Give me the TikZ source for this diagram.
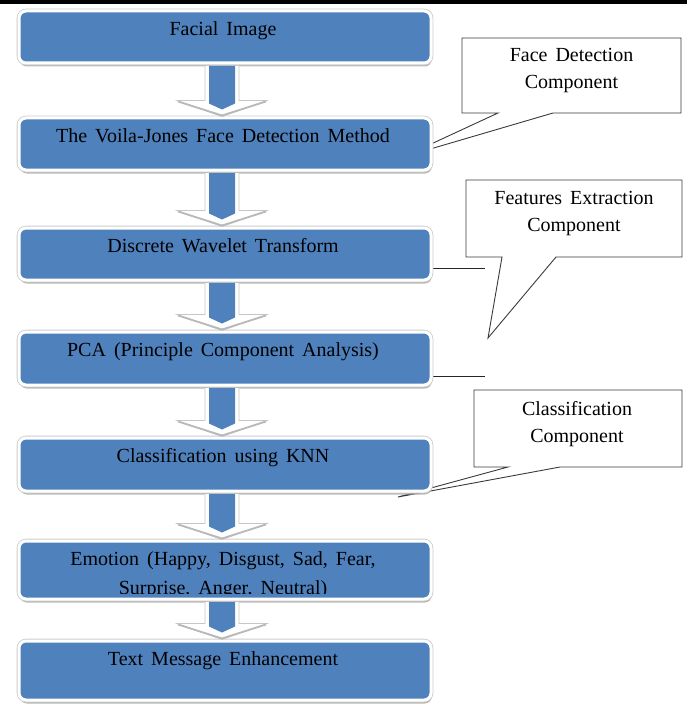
\documentclass[tikz,border=0pt]{standalone}
\usepackage{fontspec}
\setmainfont{Liberation Serif}
\newfontfamily\tnr[WordSpace=1.6]{Liberation Serif}
\usetikzlibrary{shadows,backgrounds,calc}
\definecolor{boxblue}{HTML}{4F81BD}
\definecolor{callline}{HTML}{3A3A3A}
\newcommand\flowarrow[2]{%
  \filldraw[fill=white, draw=gray!45, line width=0.8pt]
    let \p1=(#1.south), \p2=(#2.north) in
    (205pt,\y1-1.5pt) -- (205pt,\y2+16pt) -- (177pt,\y2+16pt) -- (222pt,\y2) -- (267pt,\y2+16pt) -- (239pt,\y2+16pt) -- (239pt,\y1-1.5pt);
  \draw[gray!55, line width=1.8pt, line join=round]
    let \p2=(#2.north) in
    (178pt,\y2+15pt) -- (222pt,\y2+1pt) -- (266pt,\y2+15pt);
  \fill[boxblue]
    let \p1=(#1.south), \p2=(#2.north) in
    (209pt,\y1-1.5pt) -- (209pt,\y2+13pt) -- (222pt,\y2+7pt) -- (235pt,\y2+13pt) -- (235pt,\y1-1.5pt) -- cycle;
}
\begin{document}
\begin{tikzpicture}[x=1pt,y=-1pt,
  box/.style={draw=white, line width=3pt, fill=boxblue, rounded corners=7pt,
    minimum width=412pt, inner sep=0pt,
    drop shadow={shadow xshift=0.8pt, shadow yshift=-3.5pt, fill=gray!70, opacity=0.8},
    preaction={draw=gray!40, line width=4.6pt}},
  lbl/.style={anchor=base, inner sep=0pt, font=\tnr\fontsize{20}{27}\selectfont, text=black},
  ctext/.style={anchor=base, inner sep=0pt, align=center, font=\tnr\fontsize{20}{27}\selectfont, text=black},
  callout/.style={draw=callline, line width=0.9pt, fill=white, line join=miter},
  leader/.style={draw=black!85, line width=0.9pt}]
\useasboundingbox (0,0) rectangle (687,706);
\fill[black] (0,0) rectangle (687,4.5);

% boxes
\node[box, minimum height=52pt] (b1) at (225,37) {};
\node[box, minimum height=52pt] (b2) at (225,144) {};
\node[box, minimum height=52pt] (b3) at (225,254) {};
\node[box, minimum height=53pt] (b4) at (225,358.5) {};
\node[box, minimum height=53pt] (b5) at (225,464.5) {};
\node[box, minimum height=58pt] (b6) at (225,570) {};
\node[box, minimum height=59pt] (b7) at (225,670.5) {};

% box texts
\node[lbl] (t1) at ([xshift=-2pt,yshift=-26pt]b1.north) {Facial Image};
\node[lbl] (t2) at ([xshift=-2pt,yshift=-26pt]b2.north) {The Voila-Jones Face Detection Method};
\node[lbl] (t3) at ([xshift=-2pt,yshift=-26pt]b3.north) {Discrete Wavelet Transform};
\node[lbl] (t4) at ([xshift=-2pt,yshift=-26pt]b4.north) {PCA (Principle Component Analysis)};
\node[lbl] (t5) at ([xshift=-2pt,yshift=-26pt]b5.north) {Classification using KNN};
\begin{scope}
  \clip (19,540) rectangle (431,593);
  \node[ctext, font=\tnr\fontsize{20}{28.5}\selectfont] (t6) at ([xshift=-2pt,yshift=-54.5pt]b6.north) {Emotion (Happy, Disgust, Sad, Fear,\\Surprise, Anger, Neutral)};
\end{scope}
\node[lbl] (t7) at ([xshift=-2pt,yshift=-26pt]b7.north) {Text Message Enhancement};

% arrows
\flowarrow{b1}{b2}
\flowarrow{b2}{b3}
\flowarrow{b3}{b4}
\flowarrow{b4}{b5}
\flowarrow{b5}{b6}
\flowarrow{b6}{b7}

\begin{pgfonlayer}{background}
  % callout 1
  \draw[callout] (462,38) -- (681,38) -- (681,113) -- (553,113) -- (403,157) -- (498,113) -- (462,113) -- cycle;
  \node[ctext] (c1) at (571.5,89) {Face Detection\\Component};
  % callout 2
  \draw[callout] (466,180) -- (682,180) -- (682,257) -- (556,257) -- (488,338) -- (502,257) -- (466,257) -- cycle;
  \node[ctext] (c2) at (574,231) {Features Extraction\\Component};
  \coordinate (h1) at (485,268);
  \coordinate (h2) at (485,376);
  \draw[leader] (b3.east |- h1) -- (h1);
  \draw[leader] (b4.east |- h2) -- (h2);
  % callout 3
  \draw[callout] (474,390) -- (682,390) -- (682,467) -- (560,467) -- (398,497) -- (508,467) -- (474,467) -- cycle;
  \node[ctext] (c3) at (577,442) {Classification\\Component};
\end{pgfonlayer}
\end{tikzpicture}
\end{document}
